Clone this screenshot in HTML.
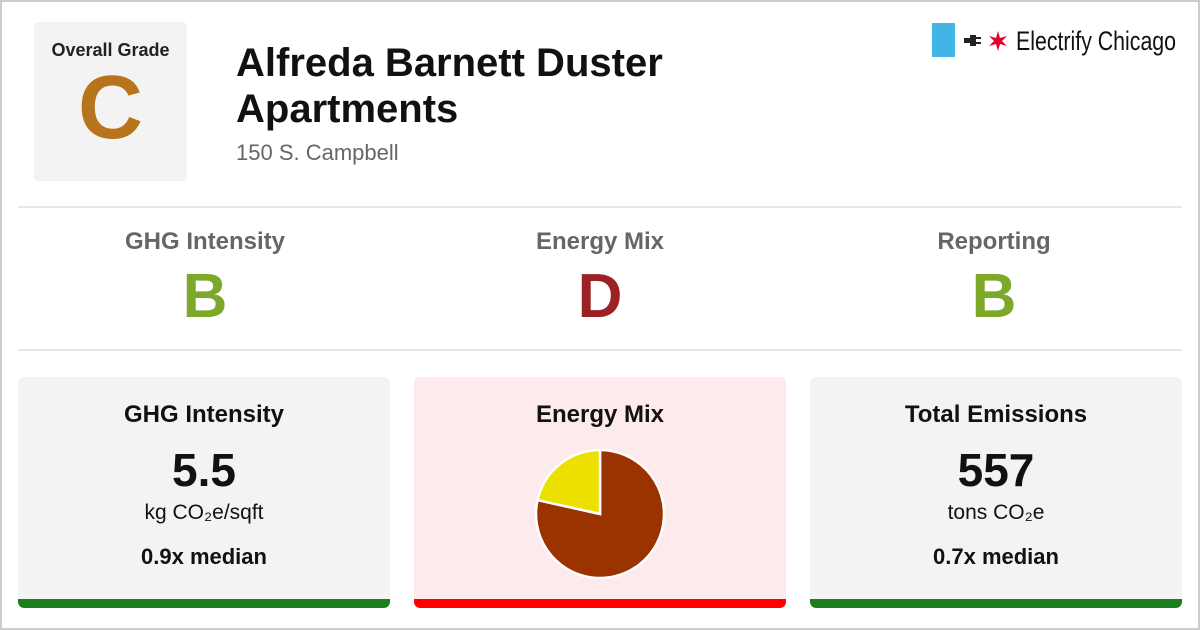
<!DOCTYPE html>
<html><head><meta charset="utf-8"><style>
*{box-sizing:border-box;margin:0;padding:0}
body{width:1200px;height:630px;background:#fff;font-family:"Liberation Sans",sans-serif;position:relative;overflow:hidden}
.frame{position:absolute;left:0;top:0;width:1200px;height:630px;border:2px solid #ccc}
.abs{position:absolute}
.grade-box{left:34px;top:22px;width:153px;height:159px;background:#f3f3f3;border-radius:4px;text-align:center}
.hr{position:absolute;left:18px;width:1164px;height:2px;background:#e6e6e6}
.sub{position:absolute;width:394px;text-align:center}
.card{position:absolute;top:377px;width:372px;height:231px;background:#f3f3f3;border-radius:6px;overflow:hidden;text-align:center}
.card .bar{position:absolute;left:0;bottom:0;width:100%;height:9px;border-radius:0 0 6px 6px}
.ct{position:absolute;top:24px;width:100%;font-size:24px;font-weight:bold;color:#111}
</style></head><body>
<div class="frame"></div>
<div class="abs grade-box">
 <div style="margin-top:18px;font-size:18px;font-weight:bold;color:#222">Overall Grade</div>
 <div style="font-size:90px;font-weight:bold;color:#b8741a;line-height:90px;margin-top:2px">C</div>
</div>
<div class="abs" style="left:236px;top:40px;font-size:40px;font-weight:bold;line-height:46px;color:#111">Alfreda Barnett Duster<br>Apartments</div>
<div class="abs" style="left:236px;top:140px;font-size:22px;color:#666">150 S. Campbell</div>
<div class="abs" style="left:932px;top:23px;width:23px;height:34px;background:#41b6e6"></div>
<svg class="abs" style="left:962px;top:30px" width="54" height="22">
<rect x="2" y="8" width="6" height="5" fill="#222"/><rect x="8" y="5" width="6" height="11" fill="#222"/><rect x="14" y="7" width="5" height="2" fill="#222"/><rect x="14" y="12" width="5" height="2" fill="#222"/>
<polygon points="36,1 38,8 45,6 40,11 45,16 38,14 36,21 34,14 27,16 32,11 27,6 34,8" fill="#e4002b"/>
</svg>
<div class="abs" style="left:1016px;top:26px;font-size:27px;color:#111;font-weight:500;white-space:nowrap;transform:scaleX(0.79);transform-origin:left">Electrify Chicago</div>
<div class="hr" style="top:206px"></div>
<div class="hr" style="top:349px"></div>
<div class="sub" style="left:8px;top:228px"><div style="font-size:24px;font-weight:bold;color:#666">GHG Intensity</div><div style="font-size:62px;font-weight:bold;color:#7ea82a;line-height:66px;margin-top:8px">B</div></div>
<div class="sub" style="left:403px;top:228px"><div style="font-size:24px;font-weight:bold;color:#666">Energy Mix</div><div style="font-size:62px;font-weight:bold;color:#9c2124;line-height:66px;margin-top:8px">D</div></div>
<div class="sub" style="left:797px;top:228px"><div style="font-size:24px;font-weight:bold;color:#666">Reporting</div><div style="font-size:62px;font-weight:bold;color:#7ea82a;line-height:66px;margin-top:8px">B</div></div>

<div class="card" style="left:18px">
 <div class="ct">GHG Intensity</div>
 <div style="position:absolute;top:66px;width:100%;font-size:46px;font-weight:bold;color:#111">5.5</div>
 <div style="position:absolute;top:124px;width:100%;font-size:21px;color:#111">kg CO₂e/sqft</div>
 <div style="position:absolute;top:167px;width:100%;font-size:22px;font-weight:bold;color:#111">0.9x median</div>
 <div class="bar" style="background:#1a7f1a"></div>
</div>
<div class="card" style="left:414px;background:#fdeaec">
 <div class="ct">Energy Mix</div>
 <svg id="pie" style="position:absolute;left:0;top:0" width="372" height="231"></svg>
 <div class="bar" style="background:#ff0000"></div>
</div>
<div class="card" style="left:810px">
 <div class="ct">Total Emissions</div>
 <div style="position:absolute;top:66px;width:100%;font-size:46px;font-weight:bold;color:#111">557</div>
 <div style="position:absolute;top:124px;width:100%;font-size:21px;color:#111">tons CO₂e</div>
 <div style="position:absolute;top:167px;width:100%;font-size:22px;font-weight:bold;color:#111">0.7x median</div>
 <div class="bar" style="background:#1a7f1a"></div>
</div>
<script>
const categories=["Gas","Electricity"];
const values=[78.5,21.5];
const colors=["#9b3300","#ece000"];
const svg=document.getElementById('pie');
const cx=186,cy=137,r=64;
const total=values.reduce((a,b)=>a+b,0);
let a0=0;
values.forEach((v,i)=>{
 const a1=a0+v/total*2*Math.PI;
 const x0=cx+r*Math.sin(a0),y0=cy-r*Math.cos(a0),x1=cx+r*Math.sin(a1),y1=cy-r*Math.cos(a1);
 const p=document.createElementNS('http://www.w3.org/2000/svg','path');
 p.setAttribute('d',`M${cx},${cy}L${x0},${y0}A${r},${r} 0 ${a1-a0>Math.PI?1:0} 1 ${x1},${y1}Z`);
 p.setAttribute('fill',colors[i]);p.setAttribute('stroke','#fff');p.setAttribute('stroke-width','2.5');
 
 
 svg.appendChild(p);a0=a1;
});
</script>
</body></html>
